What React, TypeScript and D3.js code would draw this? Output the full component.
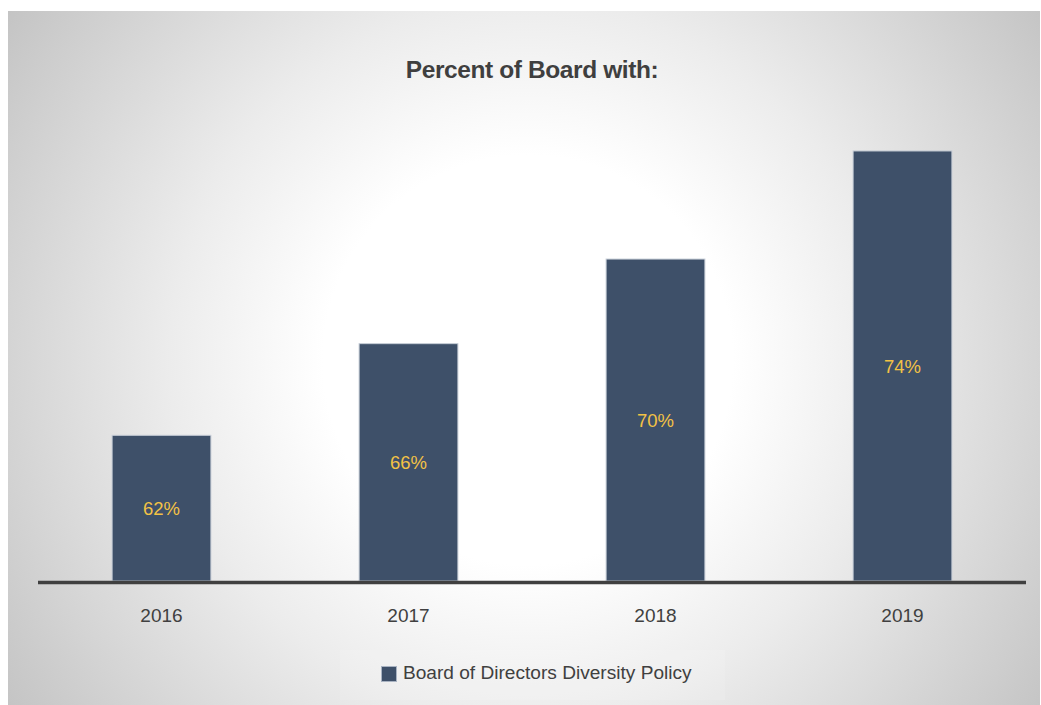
import React from "react";
import * as d3 from "d3";

const years = ["2016", "2017", "2018", "2019"];
const values = [62.2, 66.1, 69.7, 74.3];
const labels = ["62%", "66%", "70%", "74%"];
const seriesName = "Board of Directors Diversity Policy";
const title = "Percent of Board with:";

const W = 1041;
const H = 705;

export default function App() {
  const x = d3.scaleBand<string>().domain(years).range([38, 1026]).paddingInner(0.6).paddingOuter(0.3);
  const y = d3.scaleLinear().domain([56.0, 75]).range([581, 581 - 19.0 * 23.5]);
  const font = "'Liberation Sans', Arial, Helvetica, sans-serif";
  return (
    <svg width={W} height={H} style={{ position: "absolute", left: 0, top: 0 }}>
      <defs>
        <radialGradient id="bg" gradientUnits="userSpaceOnUse" cx={528} cy={360} r={640}>
          <stop offset="0" stopColor="#ffffff" />
          <stop offset="0.32" stopColor="#ffffff" />
          <stop offset="0.56" stopColor="#ececec" />
          <stop offset="1" stopColor="#c2c2c2" />
        </radialGradient>
      </defs>
      <rect x={0} y={0} width={W} height={H} fill="#ffffff" />
      <rect x={8} y={11} width={1032} height={694} fill="url(#bg)" />
      <text x={532} y={78} textAnchor="middle" fontFamily={font} fontSize={24.5} fontWeight="bold" letterSpacing={-0.4} fill="#3f3f3f">
        {title}
      </text>
      {years.map((yr, i) => (
        <g key={yr}>
          <rect
            x={x(yr)!}
            y={y(values[i])}
            width={x.bandwidth()}
            height={581 - y(values[i])}
            fill="#3e5069"
            stroke="#c7ced8"
            strokeWidth={1}
          />
          <text
            x={x(yr)! + x.bandwidth() / 2}
            y={(y(values[i]) + 581) / 2 + 7}
            textAnchor="middle"
            fontFamily={font}
            fontSize={18.5}
            fill="#f3c245"
          >
            {labels[i]}
          </text>
          <text x={x(yr)! + x.bandwidth() / 2} y={622} textAnchor="middle" fontFamily={font} fontSize={19} fill="#404040">
            {yr}
          </text>
        </g>
      ))}
      <line x1={38} x2={1026} y1={582.5} y2={582.5} stroke="#404040" strokeWidth={3.5} />
      <rect x={340} y={650} width={385} height={50} fill="#ffffff" opacity={0.12} />
      <rect x={381.5} y={666.5} width={15} height={15} fill="#3e5069" stroke="#a9b3c2" strokeWidth={1} />
      <text x={403} y={679} fontFamily={font} fontSize={19.1} fill="#404040">
        {seriesName}
      </text>
    </svg>
  );
}
